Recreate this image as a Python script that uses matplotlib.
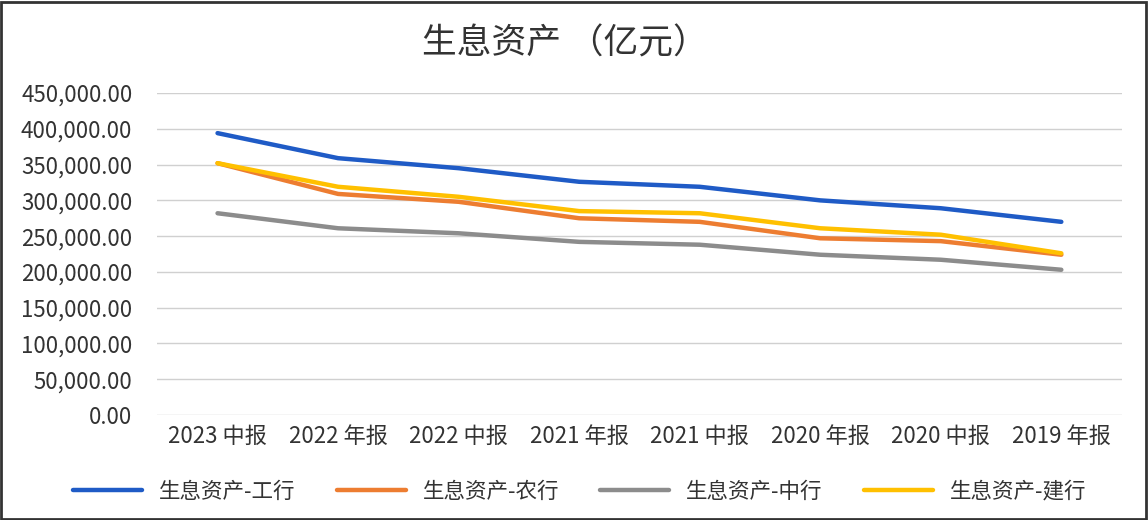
import matplotlib.pyplot as plt
from matplotlib.patches import Rectangle
from matplotlib.ticker import FuncFormatter

plt.rcParams['font.family'] = ['Noto Sans CJK SC', 'DejaVu Sans']

periods = ["2023 中报", "2022 年报", "2022 中报", "2021 年报",
           "2021 中报", "2020 年报", "2020 中报", "2019 年报"]
icbc = [394000, 359000, 345000, 326000, 319000, 300000, 289000, 270000]
abc = [352000, 309000, 298000, 275000, 270000, 247000, 243000, 224000]
boc = [282000, 261000, 254000, 242000, 238000, 224000, 217000, 203000]
ccb = [352000, 319000, 305000, 285000, 282000, 261000, 252000, 226000]

series = [
    ("生息资产-工行", icbc, "#1F5BC6"),
    ("生息资产-农行", abc, "#ED7D31"),
    ("生息资产-中行", boc, "#8C8C8C"),
    ("生息资产-建行", ccb, "#FFC000"),
]

fig = plt.figure(figsize=(11.48, 5.2), dpi=100)
ax = fig.add_axes([0.137, 0.202, 0.84, 0.619])

x = range(len(periods))
for name, vals, c in series:
    ax.plot(x, vals, color=c, lw=3.2, label=name, solid_capstyle='round')

ax.set_xlim(-0.5, 7.5)
ax.set_ylim(0, 450000)
ax.set_yticks(range(0, 450001, 50000))
ax.yaxis.set_major_formatter(FuncFormatter(lambda v, p: f"{v:,.2f}"))
ax.set_xticks(list(x))
ax.set_xticklabels(periods)
ax.grid(axis='y', color='#d0d0d0', lw=1)
ax.set_axisbelow(True)
for s in ax.spines.values():
    s.set_visible(False)
ax.tick_params(axis='x', length=0, labelsize=16, colors='#333333', pad=7)
ax.tick_params(axis='y', length=0, labelsize=16, colors='#333333', pad=18)

fig.text(0.492, 0.915, "生息资产 （亿元）", ha='center', va='center',
         fontsize=25, color='#333333')

fig.legend(loc='center', bbox_to_anchor=(0.505, 0.054), ncol=4, frameon=False,
           fontsize=15.5, handlelength=3.2, columnspacing=1.9,
           labelcolor='#333333')

fig.patches.append(Rectangle((0.001, 0.002), 0.997, 0.995, transform=fig.transFigure,
                             fill=False, edgecolor='#333333', lw=2))

fig.savefig("out.png", dpi=100)
